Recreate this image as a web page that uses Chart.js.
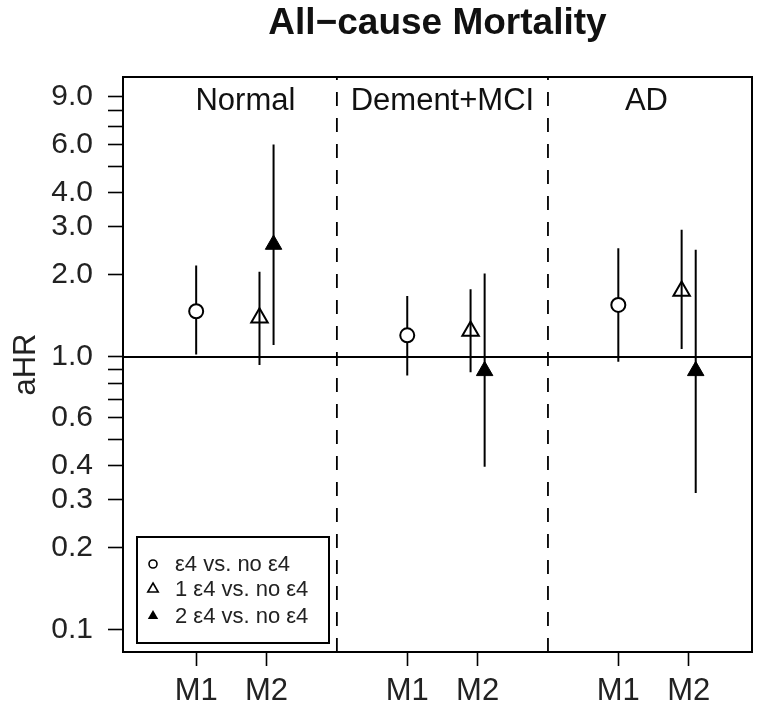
<!DOCTYPE html>
<html>
<head>
<meta charset="utf-8">
<script src="https://cdn.jsdelivr.net/npm/chart.js@4.4.1/dist/chart.umd.min.js"></script>
<style>
  html, body { margin: 0; padding: 0; background: #fff; }
</style>
</head>
<body>
<canvas id="chart" width="771" height="706"></canvas>
<script>
// panels and x positions (M1 / M2 inside each panel)
const groups = ["Normal", "Dement+MCI", "AD"];
const modelTicks = [1, 2, 4, 5, 7, 8];
const modelLabels = ["M1", "M2", "M1", "M2", "M1", "M2"];
const m1X = [1, 4, 7];
const m2X = [2, 5, 8];
const dividerX = [3, 6];

// ε4 vs. no ε4 (M1)
const anyE4 = [1.47, 1.20, 1.55];
const anyE4Lo = [1.02, 0.854, 0.96];
const anyE4Hi = [2.16, 1.67, 2.50];
// 1 ε4 vs. no ε4 (M2)
const oneE4 = [1.39, 1.245, 1.745];
const oneE4Lo = [0.935, 0.879, 1.07];
const oneE4Hi = [2.05, 1.77, 2.92];
// 2 ε4 vs. no ε4 (M2)
const twoE4 = [2.58, 0.889, 0.889];
const twoE4Lo = [1.106, 0.396, 0.317];
const twoE4Hi = [6.0, 2.02, 2.47];

const yTicks = [0.1, 0.2, 0.3, 0.4, 0.5, 0.6, 0.7, 0.8, 0.9, 1, 2, 3, 4, 5, 6, 7, 8, 9];
const yLabeled = [0.1, 0.2, 0.3, 0.4, 0.6, 1, 2, 3, 4, 6, 9];
const legendLabels = ["ε4 vs. no ε4", "1 ε4 vs. no ε4", "2 ε4 vs. no ε4"];

const xMin = -0.04, xMax = 8.9;
const yMin = 0.083, yMax = 10.6;
const dodge = 0.1;
const labelX = [1.7, 4.5, 7.4];

function pts(xs, ys, shift) {
  return xs.map((x, i) => ({ x: x + shift, y: ys[i] }));
}
// vertical segments, broken by null points
function bars(xs, lo, hi, shift) {
  const out = [];
  xs.forEach((x, i) => {
    out.push({ x: x + shift, y: lo[i] }, { x: x + shift, y: hi[i] }, { x: x + shift, y: null });
  });
  return out;
}

const FONT = "'Liberation Sans', Arial, Helvetica, sans-serif";
Chart.defaults.font.family = FONT;
Chart.defaults.color = "#222";

const lineStyle = { showLine: true, pointRadius: 0, borderColor: "#000", borderWidth: 2, spanGaps: false };

const framePlugin = {
  id: "frame",
  afterDraw(chart) {
    const { ctx, chartArea: a } = chart;
    ctx.save();
    ctx.strokeStyle = "#000";
    ctx.lineWidth = 2;
    ctx.strokeRect(a.left, a.top, a.right - a.left, a.bottom - a.top);
    ctx.restore();
  }
};

const panelPlugin = {
  id: "panels",
  afterDraw(chart) {
    const { ctx, chartArea: a, scales } = chart;
    ctx.save();
    ctx.fillStyle = "#111";
    ctx.font = "31px " + FONT;
    ctx.textAlign = "center";
    ctx.textBaseline = "middle";
    groups.forEach((g, i) => {
      ctx.fillText(g, scales.x.getPixelForValue(labelX[i]), a.top + 24);
    });
    ctx.restore();
  }
};

const legendPlugin = {
  id: "boxLegend",
  afterDraw(chart) {
    const { ctx, chartArea: a } = chart;
    const w = 192, h = 106;
    const x0 = a.left + 14, y0 = a.bottom - 9 - h;
    ctx.save();
    ctx.fillStyle = "#fff";
    ctx.fillRect(x0, y0, w, h);
    ctx.strokeStyle = "#000";
    ctx.lineWidth = 2;
    ctx.strokeRect(x0, y0, w, h);
    const rows = [y0 + 28, y0 + 53, y0 + 80];
    const mx = x0 + 16;
    ctx.lineWidth = 1.6;
    // circle
    ctx.beginPath();
    ctx.arc(mx, rows[0] - 1, 4, 0, Math.PI * 2);
    ctx.stroke();
    // open triangle
    const tri = (cy, r) => {
      ctx.beginPath();
      ctx.moveTo(mx, cy - r);
      ctx.lineTo(mx + r * 0.866, cy + r / 2);
      ctx.lineTo(mx - r * 0.866, cy + r / 2);
      ctx.closePath();
    };
    tri(rows[1] - 1, 6);
    ctx.stroke();
    tri(rows[2] - 1, 6);
    ctx.fillStyle = "#000";
    ctx.fill();
    ctx.fillStyle = "#222";
    ctx.font = "22px " + FONT;
    ctx.textAlign = "left";
    ctx.textBaseline = "middle";
    legendLabels.forEach((t, i) => ctx.fillText(t, x0 + 38, rows[i]));
    ctx.restore();
  }
};

new Chart(document.getElementById("chart"), {
  type: "scatter",
  data: {
    datasets: [
      { label: legendLabels[0], data: pts(m1X, anyE4, 0), pointStyle: "circle", pointRadius: 7,
        pointBorderWidth: 2, pointBorderColor: "#000", pointBackgroundColor: "#fff" },
      { label: legendLabels[1], data: pts(m2X, oneE4, -dodge), pointStyle: "triangle", pointRadius: 9.5,
        pointBorderWidth: 2, pointBorderColor: "#000", pointBackgroundColor: "rgba(0,0,0,0)" },
      { label: legendLabels[2], data: pts(m2X, twoE4, dodge), pointStyle: "triangle", pointRadius: 9.5,
        pointBorderWidth: 1, pointBorderColor: "#000", pointBackgroundColor: "#000" },
      { label: "ci1", data: bars(m1X, anyE4Lo, anyE4Hi, 0), ...lineStyle },
      { label: "ci2", data: bars(m2X, oneE4Lo, oneE4Hi, -dodge), ...lineStyle },
      { label: "ci3", data: bars(m2X, twoE4Lo, twoE4Hi, dodge), ...lineStyle },
      { label: "ref", data: [{ x: xMin, y: 1 }, { x: xMax, y: 1 }], ...lineStyle },
      { label: "div", data: bars(dividerX, dividerX.map(() => yMin), dividerX.map(() => yMax), 0),
        ...lineStyle, borderWidth: 1.8, borderDash: [14, 12] }
    ]
  },
  options: {
    responsive: false,
    animation: false,
    devicePixelRatio: 1,
    events: [],
    layout: { padding: { top: 0, right: 19, bottom: 0, left: 0 } },
    plugins: {
      legend: { display: false },
      tooltip: { enabled: false },
      title: {
        display: true,
        text: "All\u2212cause Mortality",
        fullSize: false,
        color: "#111",
        font: { size: 37, weight: "bold", lineHeight: 1.2 },
        padding: { top: 2, bottom: 30.6 }
      }
    },
    scales: {
      x: {
        type: "linear",
        min: xMin,
        max: xMax,
        afterBuildTicks: (s) => { s.ticks = modelTicks.map((v) => ({ value: v })); },
        afterFit: (s) => { s.height = 54; },
        ticks: {
          autoSkip: false,
          maxRotation: 0,
          padding: 10,
          color: "#222",
          font: { size: 31, lineHeight: 1 },
          callback: (v, i) => modelLabels[i]
        },
        grid: { drawOnChartArea: false, tickLength: 14, tickWidth: 1.6, tickColor: "#000" },
        border: { color: "#000", width: 2 }
      },
      y: {
        type: "logarithmic",
        min: yMin,
        max: yMax,
        afterBuildTicks: (s) => { s.ticks = yTicks.map((v) => ({ value: v })); },
        afterFit: (s) => { s.width = 123; },
        ticks: {
          autoSkip: false,
          padding: 15,
          color: "#222",
          font: { size: 30 },
          callback: (v) => (yLabeled.includes(v) ? v.toFixed(1) : "")
        },
        grid: { drawOnChartArea: false, tickLength: 15, tickWidth: 1.6, tickColor: "#000" },
        border: { color: "#000", width: 2 },
        title: {
          display: true,
          text: "aHR",
          color: "#222",
          font: { size: 31, lineHeight: 1 },
          padding: { top: 11, bottom: 0 }
        }
      }
    }
  },
  plugins: [framePlugin, panelPlugin, legendPlugin]
});
</script>
</body>
</html>
